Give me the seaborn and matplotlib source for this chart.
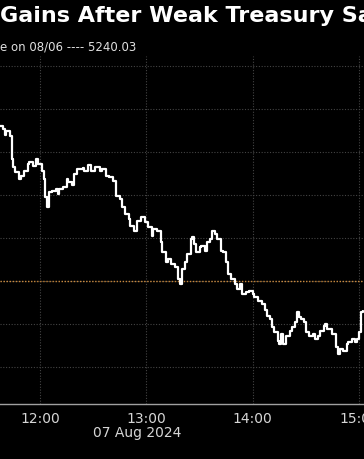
import matplotlib
matplotlib.use("Agg")
import matplotlib.pyplot as plt
import matplotlib.dates as mdates
import matplotlib.transforms as mtransforms
import seaborn as sns
import pandas as pd

# ---- data (S&P 500 intraday, 07 Aug 2024) ----
times = ["11:37", "11:39", "11:40", "11:41", "11:43", "11:44", "11:45", "11:46", "11:48", "11:49",
         "11:51", "11:53", "11:54", "11:56", "11:58", "11:59", "12:01", "12:02", "12:03", "12:04",
         "12:05", "12:07", "12:09", "12:10", "12:11", "12:13", "12:15", "12:16", "12:18", "12:19",
         "12:21", "12:24", "12:25", "12:27", "12:29", "12:31", "12:34", "12:35", "12:37", "12:39",
         "12:41", "12:43", "12:45", "12:46", "12:48", "12:50", "12:51", "12:53", "12:55", "12:57",
         "12:59", "13:01", "13:03", "13:04", "13:06", "13:08", "13:09", "13:11", "13:12", "13:14",
         "13:16", "13:18", "13:19", "13:20", "13:22", "13:23", "13:25", "13:26", "13:27", "13:28",
         "13:30", "13:31", "13:33", "13:34", "13:36", "13:37", "13:39", "13:40", "13:42", "13:43",
         "13:45", "13:46", "13:48", "13:50", "13:51", "13:53", "13:54", "13:56", "13:58", "14:00",
         "14:01", "14:03", "14:05", "14:07", "14:08", "14:10", "14:11", "14:12", "14:14", "14:15",
         "14:16", "14:17", "14:19", "14:21", "14:22", "14:24", "14:25", "14:26", "14:27", "14:29",
         "14:30", "14:32", "14:34", "14:35", "14:37", "14:38", "14:40", "14:41", "14:42", "14:44",
         "14:45", "14:47", "14:48", "14:49", "14:51", "14:53", "14:54", "14:56", "14:58", "14:59",
         "15:00", "15:01", "15:02"]
prices = [5276.1, 5275.4, 5274.0, 5275.0, 5273.8, 5268.4, 5266.6, 5265.4, 5263.8, 5264.5,
          5265.6, 5267.3, 5267.7, 5266.8, 5268.4, 5267.3, 5265.6, 5263.8, 5259.6, 5257.2,
          5260.7, 5261.0, 5261.4, 5260.3, 5261.4, 5261.9, 5263.8, 5263.1, 5262.4, 5264.9,
          5266.1, 5266.3, 5265.6, 5267.0, 5265.6, 5266.6, 5265.6, 5266.1, 5264.5, 5264.2,
          5263.3, 5259.8, 5259.1, 5257.2, 5255.6, 5254.5, 5252.8, 5251.7, 5254.0, 5254.9,
          5253.8, 5252.6, 5250.5, 5252.1, 5251.7, 5249.1, 5246.8, 5244.4, 5245.1, 5244.0,
          5243.3, 5240.5, 5239.3, 5242.8, 5244.4, 5246.3, 5249.8, 5250.3, 5248.6, 5246.8,
          5247.9, 5248.2, 5247.0, 5249.1, 5249.8, 5251.7, 5251.0, 5249.8, 5247.0, 5246.8,
          5244.4, 5241.6, 5240.5, 5239.3, 5238.1, 5239.3, 5237.0, 5237.4, 5237.7, 5237.0,
          5236.3, 5235.3, 5234.6, 5233.2, 5231.8, 5231.1, 5229.3, 5228.1, 5226.0, 5225.3,
          5227.6, 5225.3, 5227.2, 5228.3, 5229.3, 5230.4, 5232.8, 5231.6, 5231.1, 5230.4,
          5228.1, 5227.2, 5227.6, 5226.5, 5227.2, 5228.3, 5229.5, 5230.0, 5228.8, 5228.8,
          5227.6, 5224.6, 5223.0, 5224.1, 5223.7, 5225.3, 5225.8, 5226.5, 5225.8, 5226.5,
          5228.1, 5232.8, 5233.0]
prev_close = 5240.03
grid_levels = [5220, 5230, 5240, 5250, 5260, 5270, 5280, 5290]
title_text = "Gains After Weak Treasury Sale"
subtitle_text = "e on 08/06 ---- 5240.03"
date_label = "07 Aug 2024"

day = "2024-08-07 "
df = pd.DataFrame({"time": pd.to_datetime([day + t for t in times]), "price": prices})

sns.set_style("dark")
plt.rcParams["font.family"] = ["DejaVu Sans"]

fig = plt.figure(figsize=(3.64, 4.60), dpi=100, facecolor="black")
ax = fig.add_axes([0.0, 0.1196, 1.0, 0.7565])
ax.set_facecolor("black")

# previous close reference line
ax.axhline(prev_close, color="#c8873a", lw=1.0, ls=(0, (1, 1.2)), zorder=2)

sns.lineplot(data=df, x="time", y="price", ax=ax, color="white", lw=1.6,
             drawstyle="steps-post", zorder=3)

ax.set_xlim(pd.Timestamp(day + "11:37:26"), pd.Timestamp(day + "15:02:48"))
ax.set_ylim(5211.3, 5292.4)

ax.set_yticks(grid_levels)
ax.set_yticklabels([])
ax.tick_params(axis="y", length=0)

ax.xaxis.set_major_locator(mdates.HourLocator())
ax.xaxis.set_major_formatter(mdates.DateFormatter("%H:%M"))
ax.xaxis.set_minor_locator(mdates.MinuteLocator(byminute=[30]))
ax.tick_params(axis="x", which="major", colors="#9a9a9a", labelcolor="#d6d6d6",
               labelsize=10, length=4, width=1, direction="inout", pad=3)
ax.tick_params(axis="x", which="minor", colors="#9a9a9a", length=4, width=1,
               direction="inout")

ax.grid(True, which="major", axis="both", color="#444444", lw=0.8, ls=(0, (1, 1.5)))
ax.set_xlabel("")
ax.set_ylabel("")

for side in ["top", "right", "left"]:
    ax.spines[side].set_visible(False)
ax.spines["bottom"].set_color("#a0a0a0")
ax.spines["bottom"].set_linewidth(1.0)

trans = mtransforms.blended_transform_factory(ax.transData, fig.transFigure)
ax.text(pd.Timestamp(day + "12:55"), (460 - 433) / 460, date_label, transform=trans,
        ha="center", va="center", color="#d6d6d6", fontsize=10)

fig.text(0.0, (460 - 16) / 460, title_text, ha="left", va="center", color="white",
         fontsize=16, fontweight="bold")
fig.text(0.0, (460 - 47) / 460, subtitle_text, ha="left", va="center", color="#e0e0e0",
         fontsize=8.5)

fig.savefig("out.png", dpi=100, facecolor="black")
